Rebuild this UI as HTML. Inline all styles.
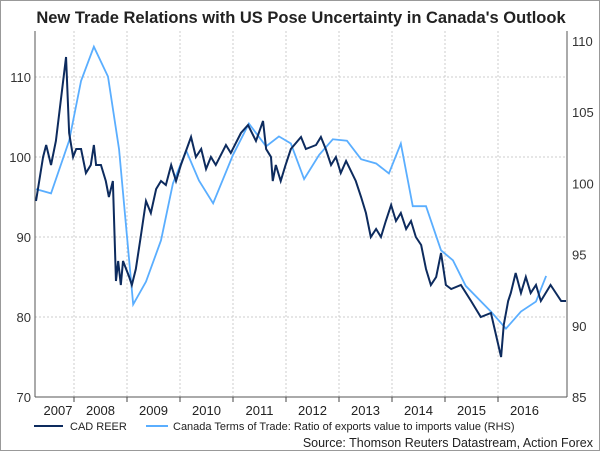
<!DOCTYPE html>
<html><head><meta charset="utf-8"><style>
body{margin:0;background:#fff;font-family:"Liberation Sans",Arial,sans-serif}
#wrap{position:relative;width:598px;height:449px;border:1px solid #999;overflow:hidden}
</style></head><body>
<div id="wrap">
<svg id="c" width="598" height="449" xmlns="http://www.w3.org/2000/svg"></svg>
</div>
<script>
// data: months since Jan 2007
const reerMonths=[3.4,5,5.7,6.8,7.9,10.2,10.9,11.8,12.5,13.6,14.7,15.8,16.5,17,18.1,19.2,19.9,20.8,21.5,22,22.6,23.1,24.5,25.1,26,27.1,28.3,29.4,30.6,31.7,32.8,34,35.1,36.2,38.5,39.6,40.8,41.9,43,44.1,46.4,47.5,49.8,51.4,53.2,54.8,55.5,56.6,57,57.7,58.8,59.9,61.1,63.4,64.5,66.8,67.9,69,70.2,71.3,72.4,73.6,75.8,77,78.1,79.2,80.4,81.5,82.6,83.8,84.9,86,87.2,88.3,89.4,90.6,91.7,92.8,94,95.1,96.2,97.4,99.6,101.9,104.1,106.4,108.7,109.3,110.3,110.9,112,113.2,114.3,115.4,116.6,117.7,118.8,119.9,121.1,122.3,123.4];
const reerValues=[94.5,100,101.5,99,102,112.5,103,100,101,101,98,99,101.5,99,99,97,95,97,84.5,87,84,87,85,84,86,90,94.5,93,96,97,96.5,99,97,99,102.5,100,101,98.5,100,99,101.5,100.5,103,104,102,104.5,101,100,97,99,97,99,101,102.5,101,101.5,102.5,101,99,100,98,99.5,97,95,93,90,91,90,92,94,92,93,91,92,90,89,86,84,85,88,84,83.5,84,82,80,80.5,75,79,82,83,85.5,83,85,83,84,82,83,84,83,82,82];
const totMonths=[3.4,6.8,10.9,13.6,16.5,19.7,22.2,25.4,28.3,31.7,34.4,37.4,40.3,43.5,48,51.6,55.5,58.4,61.1,64.1,67.5,70.6,73.8,77,80.4,83.3,86,88.7,91.7,95.1,97.8,100.7,106.4,109.8,113.2,116.6,118.9];
const totValues=[99.6,99.3,103,107.2,109.6,107.5,102.4,91.5,93.1,96,100,102.3,100.2,98.6,102,104.2,102.6,103.3,102.8,100.3,102,103.1,103,101.7,101.4,100.7,102.8,98.4,98.4,95.3,94.6,92.8,91,89.8,91,91.7,93.5];
const leftTicks=[70,80,90,100,110];
const rightTicks=[85,90,95,100,105,110];
const yearLabels=["2007","2008","2009","2010","2011","2012","2013","2014","2015","2016"];

const svg=document.getElementById('c');const NS="http://www.w3.org/2000/svg";
const L=34,R=566,T=30,B=396;
const x=m=>73+(m-12)/12*53;
const yL=v=>B-(v-70)*8;
const yR=v=>B-(v-85)*14.24;
function el(t,a,txt){const e=document.createElementNS(NS,t);for(const k in a)e.setAttribute(k,a[k]);if(txt!==undefined)e.textContent=txt;svg.appendChild(e);return e;}
const title=el('text',{x:300,y:22,'text-anchor':'middle','font-size':'16.5','font-weight':'bold',fill:'#222'},"New Trade Relations with US Pose Uncertainty in Canada's Outlook");


leftTicks.forEach(v=>{
 if(v>70){const g=el('line',{x1:L,x2:R,y1:yL(v),y2:yL(v),stroke:'#ccc','stroke-dasharray':'2,2'});
 
 }
 const t=el('text',{x:L-4,y:yL(v)+5,'text-anchor':'end','font-size':'13',fill:'#333'},v);
 
 
});
rightTicks.forEach(v=>{
 const t=el('text',{x:R+5,y:yR(v)+5,'font-size':'13',fill:'#333'},v);
 
 
});
yearLabels.forEach((y,i)=>{
 const m=i*12;
 if(i>0){const g=el('line',{x1:x(m),x2:x(m),y1:T,y2:B,stroke:'#ccc','stroke-dasharray':'2,2'});
 
 
 el('line',{x1:x(m),x2:x(m),y1:B,y2:B+5,stroke:'#444'});}
 const cx=i===0?57:x(m+6);
 const t=el('text',{x:cx,y:B+18,'text-anchor':'middle','font-size':'13',fill:'#222'},y);
 
 
});
el('line',{x1:L,x2:L,y1:T,y2:B,stroke:'#555'});
el('line',{x1:R,x2:R,y1:T,y2:B,stroke:'#555'});
el('line',{x1:L,x2:R,y1:B,y2:B,stroke:'#555'});
const tot=el('polyline',{points:totMonths.map((m,i)=>x(m)+','+yR(totValues[i])).join(' '),fill:'none',stroke:'#5aaeff','stroke-width':'1.8'});


const reer=el('polyline',{points:reerMonths.map((m,i)=>x(m)+','+yL(reerValues[i])).join(' '),fill:'none',stroke:'#0d2b5e','stroke-width':'2'});


el('line',{x1:33,x2:62,y1:425,y2:425,stroke:'#0d2b5e','stroke-width':'2'});
const l1=el('text',{x:69,y:429,'font-size':'11',fill:'#222'},'CAD REER');


el('line',{x1:145,x2:167,y1:425,y2:425,stroke:'#5aaeff','stroke-width':'2'});
const l2=el('text',{x:172,y:429,'font-size':'11',fill:'#222'},'Canada Terms of Trade: Ratio of exports value to imports value (RHS)');


const src=el('text',{x:592,y:446,'text-anchor':'end','font-size':'12.5',fill:'#222'},'Source: Thomson Reuters Datastream, Action Forex');


</script>
</body></html>
